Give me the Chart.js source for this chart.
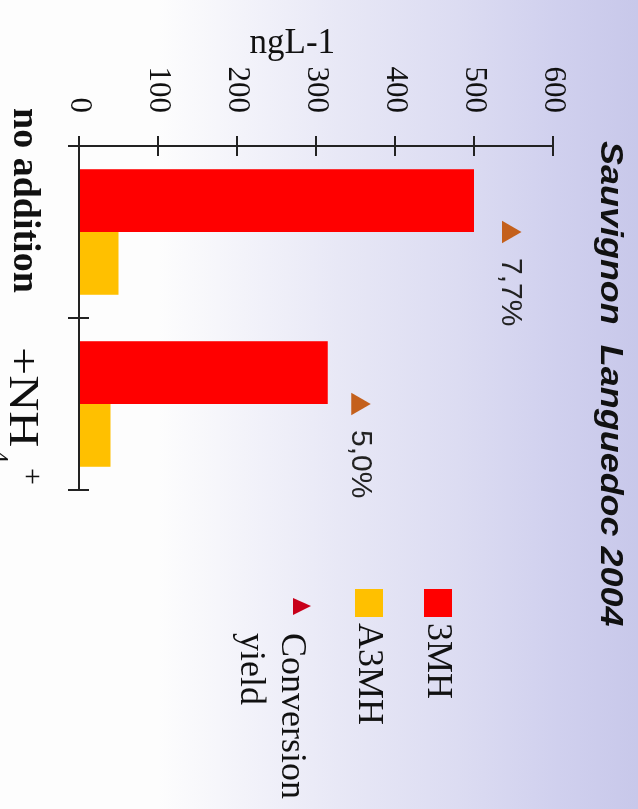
<!DOCTYPE html>
<html>
<head>
<meta charset="utf-8">
<script src="https://cdn.jsdelivr.net/npm/chart.js@4.4.0/dist/chart.umd.min.js"></script>
<style>
  html, body { margin: 0; padding: 0; overflow: hidden; background: #fff; }
  /* the slide is drawn upright, then turned a quarter turn clockwise */
  #frame {
    position: absolute; left: 0; top: 0;
    width: 809px; height: 638px;
    transform-origin: 0 0;
    transform: translate(638px, 0) rotate(90deg);
    background: linear-gradient(to bottom, #c8c8ea 0px, #d0d0ee 80px, #dcdcf2 180px, #e8e8f6 300px, #f6f6fb 420px, #fdfdfd 480px);
  }
</style>
</head>
<body>
<div id="frame"><canvas id="chart" width="809" height="638"></canvas></div>
<script>
const categories = ['no addition', '+NH4+'];
const seriesNames = ['3MH', 'A3MH', 'Conversion yield'];
const mhValues = [500, 315];        // 3MH, ng/L
const amhValues = [50, 40];         // A3MH, ng/L
const yieldValues = [7.7, 5.0];     // conversion yield, %
const yieldLabels = ['7,7%', '5,0%'];
const valueTicks = [0, 100, 200, 300, 400, 500, 600];

const SERIF = '"Liberation Serif", "Times New Roman", serif';
const SANS = '"Liberation Sans", Arial, sans-serif';
const INK = '#111';

// axes, labels, title and legend drawn over the chart
const decor = {
  id: 'decor',
  afterDraw(chart) {
    const ctx = chart.ctx;
    const xs = chart.scales.x;
    const ys = chart.scales.y;
    const area = chart.chartArea;
    const y0 = ys.getPixelForValue(0);

    ctx.save();
    ctx.strokeStyle = '#222';
    ctx.lineWidth = 2;
    ctx.beginPath();
    // value axis with crossing ticks
    ctx.moveTo(area.left, ys.getPixelForValue(valueTicks[valueTicks.length - 1]));
    ctx.lineTo(area.left, y0 + 11);
    valueTicks.forEach(v => {
      const p = ys.getPixelForValue(v);
      ctx.moveTo(area.left - 10, p);
      ctx.lineTo(area.left + 10, p);
    });
    // category axis
    ctx.moveTo(area.left - 10, y0);
    ctx.lineTo(area.right, y0);
    for (let i = 1; i <= categories.length; i++) {
      const p = xs.getPixelForValue(i - 0.5);
      ctx.moveTo(p, y0 - 10);
      ctx.lineTo(p, y0 + 11);
    }
    ctx.stroke();

    ctx.fillStyle = INK;
    ctx.textAlign = 'left';
    ctx.textBaseline = 'alphabetic';

    // category labels
    const c0 = xs.getPixelForValue(0);
    const c1 = xs.getPixelForValue(1);
    ctx.font = 'bold 38px ' + SERIF;
    ctx.fillText(categories[0], c0 - 124, 624);

    ctx.save();
    ctx.translate(c1 - 57, 628);
    ctx.scale(1.19, 1);
    ctx.font = '42px ' + SERIF;
    ctx.fillText('+NH', 0, 0);
    ctx.restore();
    ctx.font = '26px ' + SERIF;
    ctx.fillText('4', c1 + 46, 647);
    ctx.font = '30px ' + SERIF;
    ctx.fillText('+', c1 + 64, 615);

    // value axis title
    ctx.save();
    ctx.translate(53, ys.getPixelForValue(270));
    ctx.rotate(-Math.PI / 2);
    ctx.textAlign = 'center';
    ctx.font = '35px ' + SERIF;
    ctx.fillText('ngL-1', 0, 0);
    ctx.restore();

    // title
    ctx.save();
    ctx.translate(141, 37);
    ctx.scale(1.16, 1);
    ctx.font = 'bold italic 31px ' + SANS;
    ctx.fillText('Sauvignon  Languedoc 2004', 0, 0);
    ctx.restore();

    // conversion yield labels next to the markers
    ctx.font = '30px ' + SANS;
    ctx.fillStyle = '#222';
    ctx.textBaseline = 'middle';
    chart.getDatasetMeta(2).data.forEach((pt, i) => {
      ctx.fillText(yieldLabels[i], pt.x + 26, pt.y - 2);
    });

    // legend
    ctx.textBaseline = 'alphabetic';
    ctx.fillStyle = INK;
    ctx.font = '36px ' + SERIF;
    const lx = 589;
    [186, 255].forEach((top, i) => {
      ctx.fillStyle = chart.data.datasets[i].backgroundColor;
      ctx.fillRect(lx, top, 28, 28);
      ctx.fillStyle = INK;
      ctx.fillText(seriesNames[i], lx + 34, top + 24);
    });
    ctx.fillStyle = '#c8001a';
    ctx.beginPath();
    ctx.moveTo(lx + 17, 327);
    ctx.lineTo(lx + 26, 345);
    ctx.lineTo(lx + 9, 345);
    ctx.closePath();
    ctx.fill();
    ctx.fillStyle = INK;
    seriesNames[2].split(' ').forEach((word, i) => {
      ctx.fillText(word, lx + 44, 356 + i * 41);
    });

    ctx.restore();
  }
};

new Chart(document.getElementById('chart'), {
  type: 'bar',
  data: {
    labels: categories,
    datasets: [
      {
        label: seriesNames[0],
        data: mhValues,
        backgroundColor: '#ff0000',
        categoryPercentage: 0.73,
        barPercentage: 1.0,
      },
      {
        label: seriesNames[1],
        data: amhValues,
        backgroundColor: '#ffc000',
        categoryPercentage: 0.73,
        barPercentage: 1.0,
      },
      {
        type: 'line',
        label: seriesNames[2],
        data: yieldValues,
        yAxisID: 'y2',
        showLine: false,
        pointStyle: 'triangle',
        pointRadius: 13,
        pointHoverRadius: 13,
        pointBorderWidth: 0,
        pointBackgroundColor: '#c4601c',
        pointBorderColor: '#c4601c',
      },
    ],
  },
  options: {
    responsive: false,
    animation: false,
    events: [],
    layout: { padding: { top: 85, right: 319, bottom: 0, left: 0 } },
    plugins: {
      legend: { display: false },
      tooltip: { enabled: false },
      title: { display: false },
    },
    scales: {
      x: {
        grid: { display: false, drawTicks: false },
        border: { display: false },
        ticks: { display: false },
        afterFit: (s) => { s.height = 79; },
      },
      y: {
        min: 0,
        max: 600,
        grid: { display: false, drawTicks: false },
        border: { display: false },
        ticks: {
          padding: 33,
          color: INK,
          font: { family: SERIF, size: 31 },
        },
        afterBuildTicks: (s) => { s.ticks = valueTicks.map(v => ({ value: v })); },
        afterFit: (s) => { s.width = 146; },
      },
      y2: {
        display: false,
        min: 0,
        max: 8.5,
      },
    },
  },
  plugins: [decor],
});
</script>
</body>
</html>
